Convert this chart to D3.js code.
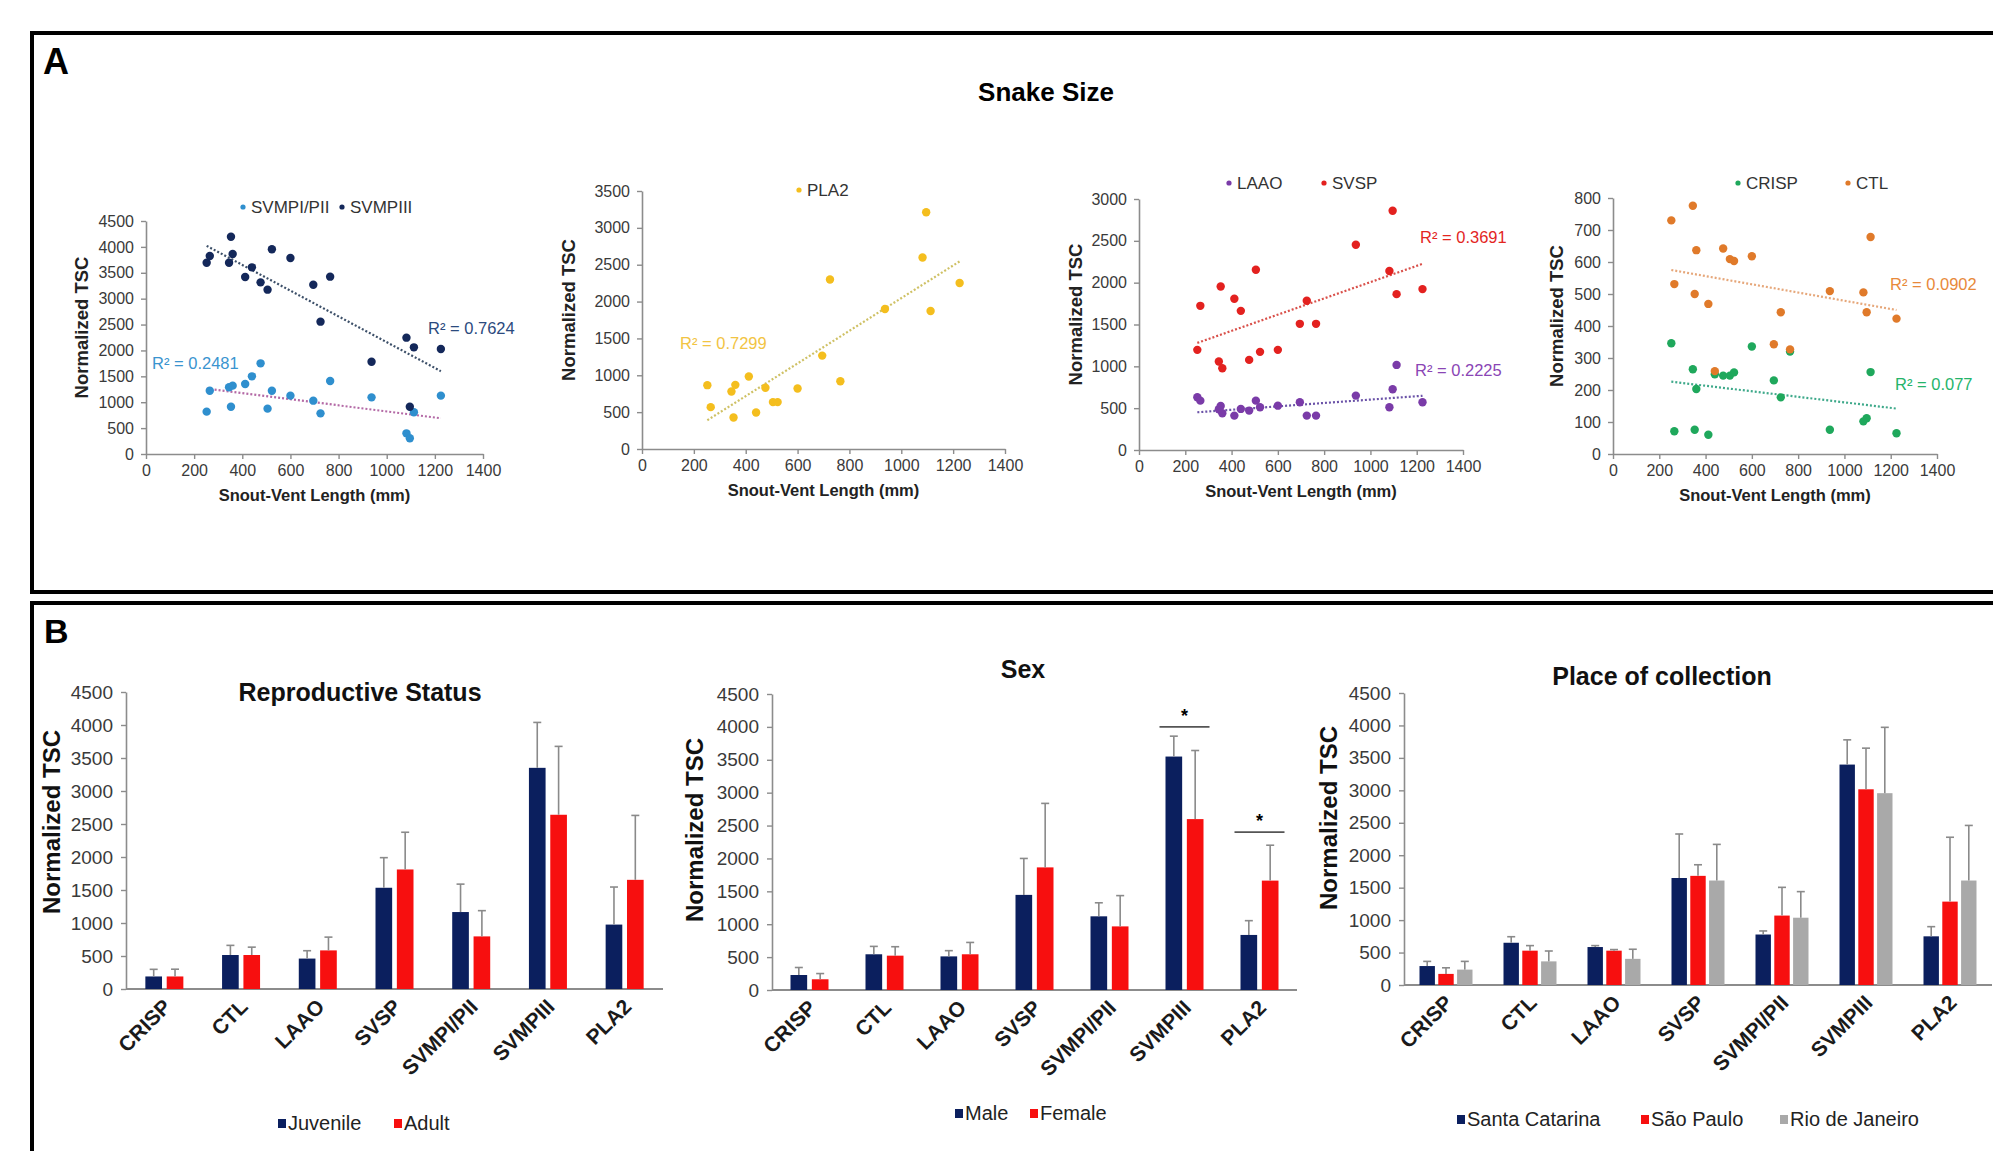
<!DOCTYPE html>
<html>
<head>
<meta charset="utf-8">
<script src="https://cdn.jsdelivr.net/npm/d3@7"></script>
<style>
  body { margin: 0; background: #fff; }
  text { font-family: "Liberation Sans", Arial, Helvetica, sans-serif; }
</style>
</head>
<body>
<svg id="fig" width="1993" height="1151"></svg>
<script>
// ---------- data: panel A (one value per snake, in snake order) ----------
const svl        = [252, 265, 345, 353, 360, 412, 440, 476, 505, 523, 600, 695, 725, 765, 937, 1082, 1096, 1113, 1225];
const svmpPIPII  = [818, 1223, 1288, 914, 1320, 1352, 1500, 1751, 876, 1223, 1127, 1030, 785, 1410, 1094, 399, 303, 805, 1127];
const svmpPIII   = [3695, 3824, 3695, 4197, 3863, 3418, 3605, 3315, 3174, 3953, 3785, 3270, 2556, 3425, 1783, 2247, 914, 2060, 2028];
const pla2       = [866, 568, 780, 428, 870, 983, 496, 830, 636, 636, 821, 1267, 2300, 920, 1899, 2598, 3212, 1872, 2251];
const laao       = [630, 590, 487, 527, 439, 411, 491, 471, 590, 511, 530, 570, 411, 411, 650, 511, 726, 1017, 570];
const svsp       = [1197, 1723, 1057, 1955, 977, 1807, 1663, 1077, 2154, 1173, 1197, 1508, 1783, 1508, 2453, 2140, 2860, 1863, 1923];
const crisp      = [346, 71, 265, 76, 203, 60, 249, 245, 245, 255, 336, 230, 177, 320, 76, 102, 112, 256, 65];
const ctl        = [730, 531, 776, 500, 637, 469, 259, 642, 609, 603, 618, 343, 443, 327, 509, 505, 443, 678, 423];

// linear trend lines, value at shortest and longest snake
const trendSVL   = [252, 1225];
const trendPIPII = [1262, 690];
const trendPIII  = [4020, 1600];
const trendPLA2  = [390, 2545];
const trendLAAO  = [451, 648];
const trendSVSP  = [1280, 2225];
const trendCRISP = [226, 142];
const trendCTL   = [575, 450];

// ---------- data: panel B ----------
const toxins = ["CRISP", "CTL", "LAAO", "SVSP", "SVMPI/PII", "SVMPIII", "PLA2"];

const juvenileMean = [190, 515, 461, 1534, 1166, 3351, 976];
const juvenileSD   = [108, 146, 119, 456, 423, 688, 569];
const adultMean    = [190, 515, 585, 1811, 797, 2640, 1654];
const adultSD      = [110, 119, 201, 564, 390, 1036, 976];

const maleMean     = [228, 543, 511, 1446, 1120, 3549, 837];
const maleSD       = [114, 120, 87, 554, 206, 310, 217];
const femaleMean   = [163, 522, 543, 1864, 967, 2598, 1663];
const femaleSD     = [87, 136, 180, 973, 468, 1043, 538];

const scMean       = [292, 651, 585, 1649, 778, 3397, 750];
const scSD         = [72, 93, 22, 678, 55, 381, 149];
const spMean       = [171, 529, 529, 1682, 1070, 3016, 1285];
const spSD         = [94, 78, 17, 171, 435, 634, 992];
const rjMean       = [237, 364, 403, 1610, 1037, 2956, 1610];
const rjSD         = [127, 160, 148, 557, 402, 1015, 849];

const sexSignificant = ["SVMPIII", "PLA2"];
const sexSigLevel    = [4000, 2400];

const svg = d3.select("#fig");
const axisGrey = "#8c8c8c";
const labelGrey = "#3a3a3a";

// ---------- frames ----------
svg.append("rect").attr("x", 32).attr("y", 33).attr("width", 2000).attr("height", 559)
  .attr("fill", "none").attr("stroke", "#000").attr("stroke-width", 4);
svg.append("rect").attr("x", 32).attr("y", 603).attr("width", 2000).attr("height", 600)
  .attr("fill", "none").attr("stroke", "#000").attr("stroke-width", 4);

svg.append("text").attr("x", 43).attr("y", 74).attr("font-size", 36).attr("font-weight", "bold").text("A");
svg.append("text").attr("x", 44).attr("y", 643).attr("font-size", 34).attr("font-weight", "bold").text("B");
svg.append("text").attr("x", 1046).attr("y", 101).attr("text-anchor", "middle")
  .attr("font-size", 26).attr("font-weight", "bold").text("Snake Size");

function styleAxis(sel, fs) {
  sel.select(".domain").attr("stroke", axisGrey).attr("stroke-width", 1.6);
  sel.selectAll(".tick line").attr("stroke", axisGrey).attr("stroke-width", 1.4);
  sel.selectAll(".tick text").attr("fill", labelGrey).attr("font-size", fs)
    .style("font-family", "'Liberation Sans', Arial, sans-serif");
}

// ---------- scatter panels ----------
function drawScatter(cfg) {
  const g = svg.append("g");
  const x = d3.scaleLinear().domain([0, 1400]).range([cfg.left, cfg.right]);
  const y = d3.scaleLinear().domain([0, cfg.ymax]).range([cfg.bottom, cfg.top]);

  const xa = g.append("g").attr("transform", `translate(0,${cfg.bottom})`)
    .call(d3.axisBottom(x).tickValues(d3.range(0, 1401, 200)).tickFormat(d3.format("d"))
      .tickSize(5).tickSizeOuter(0).tickPadding(6));
  styleAxis(xa, 16);
  const ya = g.append("g").attr("transform", `translate(${cfg.left},0)`)
    .call(d3.axisLeft(y).tickValues(d3.range(0, cfg.ymax + 1, cfg.step)).tickFormat(d3.format("d"))
      .tickSize(5).tickSizeOuter(0).tickPadding(7));
  styleAxis(ya, 16);

  g.append("text").attr("x", (cfg.left + cfg.right) / 2).attr("y", cfg.bottom + 47)
    .attr("text-anchor", "middle").attr("font-size", 16.5).attr("font-weight", "bold")
    .attr("fill", "#222").text("Snout-Vent Length (mm)");
  g.append("text")
    .attr("transform", `translate(${cfg.ytitleX},${(cfg.top + cfg.bottom) / 2 - 10}) rotate(-90)`)
    .attr("text-anchor", "middle").attr("font-size", 18.5).attr("font-weight", "bold")
    .attr("fill", "#222").text("Normalized TSC");

  cfg.series.forEach(s => {
    g.append("line")
      .attr("x1", x(trendSVL[0])).attr("y1", y(s.trend[0]))
      .attr("x2", x(trendSVL[1])).attr("y2", y(s.trend[1]))
      .attr("stroke", s.trendColor).attr("stroke-width", 2.2).attr("stroke-dasharray", "2,2");
  });
  cfg.series.forEach(s => {
    g.selectAll(null).data(s.values).join("circle")
      .attr("cx", (d, i) => x(svl[i])).attr("cy", d => y(d))
      .attr("r", 4.2).attr("fill", s.color);
    // legend
    g.append("circle").attr("cx", s.legend[0]).attr("cy", s.legend[1]).attr("r", 2.6).attr("fill", s.color);
    g.append("text").attr("x", s.legend[0] + 8).attr("y", s.legend[1] + 6)
      .attr("font-size", 17).attr("fill", "#333").text(s.name);
    // R²
    g.append("text").attr("x", s.r2pos[0]).attr("y", s.r2pos[1] + 6)
      .attr("font-size", 16.5).attr("fill", s.r2color).text(s.r2);
  });
}

drawScatter({
  left: 146, right: 483, bottom: 454, top: 221, ymax: 4500, step: 500, ytitleX: 88,
  series: [
    { name: "SVMPI/PII", values: svmpPIPII, color: "#2f8fce", trend: trendPIPII, trendColor: "#b46aa6",
      legend: [243, 207], r2: "R² = 0.2481", r2pos: [152, 363], r2color: "#3a94cf" },
    { name: "SVMPIII", values: svmpPIII, color: "#14285a", trend: trendPIII, trendColor: "#3d5069",
      legend: [342, 207], r2: "R² = 0.7624", r2pos: [428, 328], r2color: "#2b4a7e" }
  ]
});
drawScatter({
  left: 642, right: 1005, bottom: 449, top: 191, ymax: 3500, step: 500, ytitleX: 575,
  series: [
    { name: "PLA2", values: pla2, color: "#f4be1e", trend: trendPLA2, trendColor: "#cfc165",
      legend: [799, 190], r2: "R² = 0.7299", r2pos: [680, 343], r2color: "#f2c443" }
  ]
});
drawScatter({
  left: 1139, right: 1463, bottom: 450, top: 199, ymax: 3000, step: 500, ytitleX: 1082,
  series: [
    { name: "LAAO", values: laao, color: "#7a3ba8", trend: trendLAAO, trendColor: "#6b53a8",
      legend: [1229, 183], r2: "R² = 0.2225", r2pos: [1415, 370], r2color: "#8a45b5" },
    { name: "SVSP", values: svsp, color: "#e3211f", trend: trendSVSP, trendColor: "#d9504a",
      legend: [1324, 183], r2: "R² = 0.3691", r2pos: [1420, 237], r2color: "#e3261f" }
  ]
});
drawScatter({
  left: 1613, right: 1937, bottom: 454, top: 198, ymax: 800, step: 100, ytitleX: 1563,
  series: [
    { name: "CRISP", values: crisp, color: "#1fa85c", trend: trendCRISP, trendColor: "#3ea98a",
      legend: [1738, 183], r2: "R² = 0.077", r2pos: [1895, 384], r2color: "#25b46a" },
    { name: "CTL", values: ctl, color: "#e07a2a", trend: trendCTL, trendColor: "#e6a77a",
      legend: [1848, 183], r2: "R² = 0.0902", r2pos: [1890, 284], r2color: "#e8893a" }
  ]
});

// ---------- bar panels ----------
function drawBars(cfg) {
  const g = svg.append("g");
  const x0 = d3.scaleBand().domain(toxins).range([cfg.left, cfg.right]);
  const x1 = d3.scaleBand().domain(cfg.series.map(s => s.name))
    .range([-cfg.groupW / 2, cfg.groupW / 2]).paddingInner(cfg.gap);
  const y = d3.scaleLinear().domain([0, 4500]).range([cfg.bottom, cfg.top]);

  const ya = g.append("g").attr("transform", `translate(${cfg.left},0)`)
    .call(d3.axisLeft(y).tickValues(d3.range(0, 4501, 500)).tickFormat(d3.format("d"))
      .tickSize(5).tickSizeOuter(0).tickPadding(8));
  styleAxis(ya, 19);
  g.append("line").attr("x1", cfg.left).attr("x2", cfg.right)
    .attr("y1", y(0)).attr("y2", y(0)).attr("stroke", axisGrey).attr("stroke-width", 1.8);

  cfg.series.forEach(s => {
    const cx = t => x0(t) + x0.bandwidth() / 2 + x1(s.name);
    g.selectAll(null).data(toxins).join("rect")
      .attr("x", t => cx(t)).attr("width", x1.bandwidth())
      .attr("y", (t, i) => y(s.mean[i])).attr("height", (t, i) => y(0) - y(s.mean[i]))
      .attr("fill", s.color);
    const mid = t => cx(t) + x1.bandwidth() / 2;
    g.selectAll(null).data(toxins).join("line")
      .attr("x1", mid).attr("x2", mid)
      .attr("y1", (t, i) => y(s.mean[i])).attr("y2", (t, i) => y(s.mean[i] + s.sd[i]))
      .attr("stroke", "#8a8a8a").attr("stroke-width", 1.6);
    g.selectAll(null).data(toxins).join("line")
      .attr("x1", t => mid(t) - 4).attr("x2", t => mid(t) + 4)
      .attr("y1", (t, i) => y(s.mean[i] + s.sd[i])).attr("y2", (t, i) => y(s.mean[i] + s.sd[i]))
      .attr("stroke", "#8a8a8a").attr("stroke-width", 1.6);
  });

  // rotated category labels
  g.selectAll(null).data(toxins).join("text")
    .attr("transform", t => `translate(${x0(t) + x0.bandwidth() / 2 + 8},${y(0) + 19}) rotate(-45)`)
    .attr("text-anchor", "end").attr("font-size", 21).attr("font-weight", "bold")
    .attr("fill", "#1a1a1a").text(t => t);

  g.append("text").attr("x", cfg.titlePos[0]).attr("y", cfg.titlePos[1] + 9)
    .attr("text-anchor", "middle").attr("font-size", 25).attr("font-weight", "bold")
    .attr("fill", "#111").text(cfg.title);
  g.append("text")
    .attr("transform", `translate(${cfg.ytitleX},${cfg.ytitleY}) rotate(-90)`)
    .attr("text-anchor", "middle").attr("font-size", 24).attr("font-weight", "bold")
    .attr("fill", "#111").text("Normalized TSC");

  // legend
  cfg.series.forEach((s, i) => {
    const lx = cfg.legendX[i];
    g.append("rect").attr("x", lx - 4).attr("y", cfg.legendY - 4).attr("width", 8).attr("height", 9)
      .attr("fill", s.color);
    g.append("text").attr("x", lx + 6).attr("y", cfg.legendY + 7)
      .attr("font-size", 20).attr("fill", "#222").text(s.name);
  });

  if (cfg.sig) {
    cfg.sig.names.forEach((t, i) => {
      const c = x0(t) + x0.bandwidth() / 2;
      const ly = y(cfg.sig.levels[i]);
      g.append("line").attr("x1", c - 25).attr("x2", c + 25).attr("y1", ly).attr("y2", ly)
        .attr("stroke", "#555").attr("stroke-width", 1.6);
      g.append("text").attr("x", c).attr("y", ly - 5).attr("text-anchor", "middle")
        .attr("font-size", 18).attr("font-weight", "bold").text("*");
    });
  }
}

const navy = "#0b1f5e", red = "#f70f0f", grey = "#a9a9a9";

drawBars({
  left: 126, right: 663, bottom: 989, top: 692, groupW: 38, gap: 0.22,
  title: "Reproductive Status", titlePos: [360, 692], ytitleX: 60, ytitleY: 822,
  legendX: [282, 398], legendY: 1123,
  series: [
    { name: "Juvenile", mean: juvenileMean, sd: juvenileSD, color: navy },
    { name: "Adult", mean: adultMean, sd: adultSD, color: red }
  ]
});
drawBars({
  left: 772, right: 1297, bottom: 990, top: 694, groupW: 38, gap: 0.22,
  title: "Sex", titlePos: [1023, 669], ytitleX: 703, ytitleY: 830,
  legendX: [959, 1034], legendY: 1113,
  sig: { names: sexSignificant, levels: sexSigLevel },
  series: [
    { name: "Male", mean: maleMean, sd: maleSD, color: navy },
    { name: "Female", mean: femaleMean, sd: femaleSD, color: red }
  ]
});
drawBars({
  left: 1404, right: 1992, bottom: 985, top: 693, groupW: 53, gap: 0.18,
  title: "Place of collection", titlePos: [1662, 676], ytitleX: 1337, ytitleY: 818,
  legendX: [1461, 1645, 1784], legendY: 1119,
  series: [
    { name: "Santa Catarina", mean: scMean, sd: scSD, color: navy },
    { name: "São Paulo", mean: spMean, sd: spSD, color: red },
    { name: "Rio de Janeiro", mean: rjMean, sd: rjSD, color: grey }
  ]
});
</script>
</body>
</html>
